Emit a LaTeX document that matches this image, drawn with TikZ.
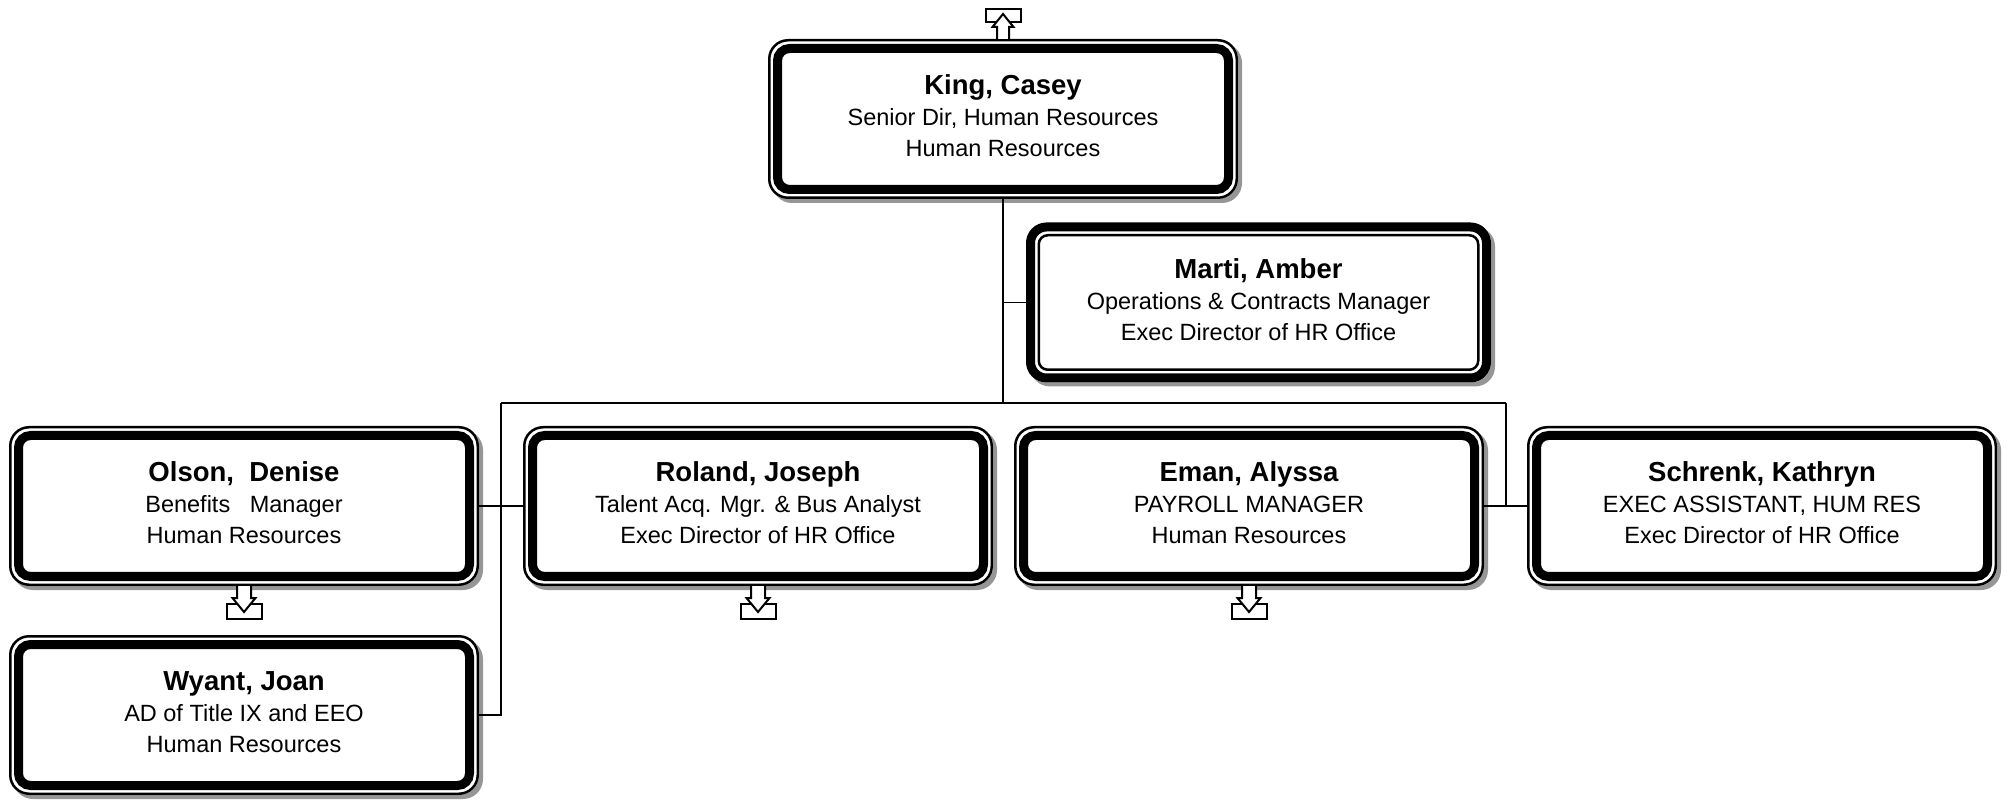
\documentclass[tikz,border=0pt]{standalone}
\usepackage{fontspec}
\setmainfont{Liberation Sans}
\newfontfamily\namefam{Liberation Sans}
\usetikzlibrary{calc}
\definecolor{shadowc}{RGB}{150,150,150}
\newcommand\bodyfont{\fontsize{11.75pt}{15.5pt}\selectfont}
\newcommand\nm[1]{{\namefam\bfseries\fontsize{13.75pt}{15.5pt}\selectfont #1}}
\tikzset{
  shadowfill/.style={fill=shadowc},
  thinrim/.style={draw=black, line width=1.25pt},
  thickrim/.style={draw=black, line width=4.5pt},
  boxshape/.style={rectangle, inner sep=0pt, outer sep=0pt},
  boxtext/.style={align=center, font=\bodyfont, inner sep=0pt, text=black},
  link/.style={draw=black, line width=0.75pt},
  iconline/.style={draw=black, fill=white, line width=1pt, line join=miter},
}
% normal frame: cx cy w h
\newcommand\frameN[4]{%
  \fill[shadowfill, rounded corners=10pt] ({#1-#3/2+4},{#2-#4/2+4}) rectangle ({#1+#3/2+4},{#2+#4/2+4});
  \fill[white, rounded corners=10pt] ({#1-#3/2},{#2-#4/2}) rectangle ({#1+#3/2},{#2+#4/2});
  \draw[thinrim, rounded corners=9.4pt] ({#1-#3/2+1.25},{#2-#4/2+1.25}) rectangle ({#1+#3/2-1.25},{#2+#4/2-1.25});
  \draw[thickrim, rounded corners=6pt] ({#1-#3/2+9.5},{#2-#4/2+9.5}) rectangle ({#1+#3/2-9.5},{#2+#4/2-9.5});
}
% assistant frame: thick outside, thin inside
\newcommand\frameA[4]{%
  \fill[shadowfill, rounded corners=10pt] ({#1-#3/2+4},{#2-#4/2+4}) rectangle ({#1+#3/2+4},{#2+#4/2+4});
  \fill[white, rounded corners=10pt] ({#1-#3/2},{#2-#4/2}) rectangle ({#1+#3/2},{#2+#4/2});
  \draw[thickrim, rounded corners=8pt] ({#1-#3/2+4.5},{#2-#4/2+4.5}) rectangle ({#1+#3/2-4.5},{#2+#4/2-4.5});
  \draw[thinrim, rounded corners=4.5pt] ({#1-#3/2+12.75},{#2-#4/2+12.75}) rectangle ({#1+#3/2-12.75},{#2+#4/2-12.75});
}
% down icon below a box: cx, bottom y
\newcommand\downicon[2]{%
  \draw[iconline] ({#1-17.5},{#2+18}) rectangle ({#1+17.5},{#2+33});
  \draw[iconline] ({#1-7},{#2}) -- ({#1-7},{#2+12}) -- ({#1-11.5},{#2+12}) -- ({#1},{#2+26}) -- ({#1+11.5},{#2+12}) -- ({#1+7},{#2+12}) -- ({#1+7},{#2});
}
\newcommand\upicon[2]{%
  \draw[iconline] ({#1-17.5},{#2-30}) rectangle ({#1+17.5},{#2-17});
  \draw[iconline] ({#1-6},{#2}) -- ({#1-6},{#2-12}) -- ({#1-10.5},{#2-12}) -- ({#1},{#2-25}) -- ({#1+10.5},{#2-12}) -- ({#1+6},{#2-12}) -- ({#1+6},{#2});
}
\begin{document}
\begin{tikzpicture}[x=0.5pt, y=-0.5pt]
\useasboundingbox[fill=white] (0,0) rectangle (2007,801);
% frames
\frameN{1003}{119}{470}{160}
\node[boxshape, minimum width=235pt, minimum height=80pt] (king) at (1003,119) {};
\node[boxtext] (king-t) at ([yshift=1.5pt]king.center) {\nm{King, Casey}\\Senior Dir, Human Resources\\Human Resources};

\frameA{1258.5}{302.5}{465}{160}
\node[boxshape, minimum width=232.5pt, minimum height=80pt] (marti) at (1258.5,302.5) {};
\node[boxtext] (marti-t) at ([yshift=1.5pt]marti.center) {\nm{Marti, Amber}\\Operations \& Contracts Manager\\Exec Director of HR Office};

\frameN{244}{506}{470}{160}
\node[boxshape, minimum width=235pt, minimum height=80pt] (olson) at (244,506) {};
\node[boxtext] (olson-t) at ([yshift=1.5pt]olson.center) {\nm{Olson,\ \ Denise}\\Benefits\ \ \ Manager\\Human Resources};

\frameN{758}{506}{470}{160}
\node[boxshape, minimum width=235pt, minimum height=80pt] (roland) at (758,506) {};
\node[boxtext] (roland-t) at ([yshift=1.5pt]roland.center) {\nm{Roland, Joseph}\\Talent Acq. Mgr. \& Bus Analyst\\Exec Director of HR Office};

\frameN{1249}{506}{470}{160}
\node[boxshape, minimum width=235pt, minimum height=80pt] (eman) at (1249,506) {};
\node[boxtext] (eman-t) at ([yshift=1.5pt]eman.center) {\nm{Eman, Alyssa}\\PAYROLL MANAGER\\Human Resources};

\frameN{1762}{506}{470}{160}
\node[boxshape, minimum width=235pt, minimum height=80pt] (schrenk) at (1762,506) {};
\node[boxtext] (schrenk-t) at ([yshift=1.5pt]schrenk.center) {\nm{Schrenk, Kathryn}\\EXEC ASSISTANT, HUM RES\\Exec Director of HR Office};

\frameN{244}{715}{470}{160}
\node[boxshape, minimum width=235pt, minimum height=80pt] (wyant) at (244,715) {};
\node[boxtext] (wyant-t) at ([yshift=1.5pt]wyant.center) {\nm{Wyant, Joan}\\AD of Title IX and EEO\\Human Resources};

% connectors
\coordinate (busL) at (501,403);
\coordinate (busR) at (1506,403);
\coordinate (trunk) at (king.south |- busL);
\draw[link] (king.south) -- (trunk);
\draw[link] (king.south |- marti.west) -- (marti.west);
\draw[link] (busL) -- (busR);
\draw[link] (busL) -- (busL |- wyant.east) -- (wyant.east);
\draw[link] (olson.east) -- (roland.west);
\draw[link] (busR) -- (busR |- eman.east);
\draw[link] (eman.east) -- (schrenk.west);

% icons
\upicon{1003}{39}
\downicon{244}{586}
\downicon{758}{586}
\downicon{1249}{586}
\end{tikzpicture}
\end{document}
